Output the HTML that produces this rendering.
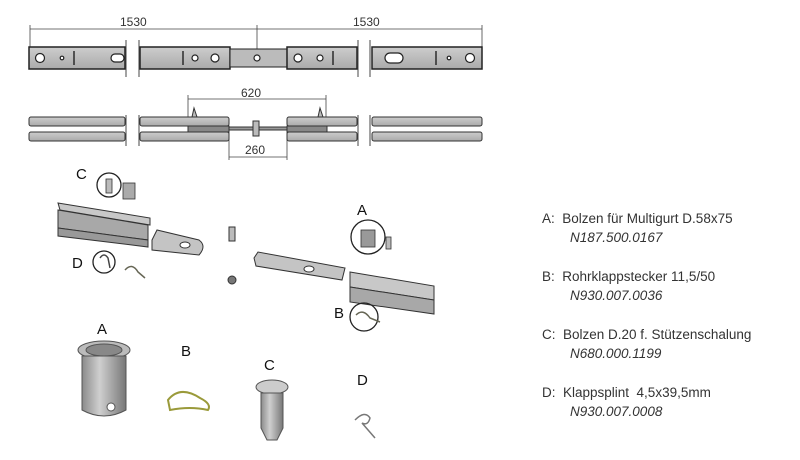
<!DOCTYPE html>
<html><head><meta charset="utf-8"><style>
html,body{margin:0;padding:0;background:#fff;width:800px;height:460px;overflow:hidden}
svg{display:block}
.t{font-family:"Liberation Sans",sans-serif;font-size:13.5px;fill:#333}
.i{font-style:italic}
.d{font-family:"Liberation Sans",sans-serif;font-size:12px;fill:#333}
.L{font-family:"Liberation Sans",sans-serif;font-size:15px;fill:#111}
</style></head><body>
<svg width="800" height="460" viewBox="0 0 800 460">
<defs>
<linearGradient id="g" x1="0" y1="0" x2="0" y2="1"><stop offset="0" stop-color="#cdcdcd"/><stop offset="1" stop-color="#aaa"/></linearGradient>
<linearGradient id="cy" x1="0" y1="0" x2="1" y2="0"><stop offset="0" stop-color="#8a8a8a"/><stop offset=".4" stop-color="#cfcfcf"/><stop offset="1" stop-color="#777"/></linearGradient>
</defs>
<g stroke="#444" stroke-width="0.8" fill="none">
<line x1="30" y1="29" x2="482" y2="29"/><line x1="30" y1="25" x2="30" y2="47"/><line x1="257" y1="25" x2="257" y2="60"/><line x1="482" y1="25" x2="482" y2="47"/>
<line x1="188" y1="99" x2="326" y2="99"/><line x1="188" y1="95" x2="188" y2="118"/><line x1="326" y1="95" x2="326" y2="118"/>
<line x1="229" y1="157" x2="287" y2="157"/><line x1="229" y1="130" x2="229" y2="160"/><line x1="287" y1="130" x2="287" y2="160"/>
</g>
<text class="d" x="120" y="26">1530</text><text class="d" x="353" y="26">1530</text>
<text class="d" x="241" y="97">620</text><text class="d" x="245" y="154">260</text>
<g stroke="#222" stroke-width="1.5">
<rect x="29" y="47" width="96" height="22" fill="url(#g)"/>
<rect x="140" y="47" width="90" height="22" fill="url(#g)"/>
<rect x="230" y="49" width="57" height="18" fill="#bbb" stroke-width="1"/>
<rect x="287" y="47" width="70" height="22" fill="url(#g)"/>
<rect x="372" y="47" width="110" height="22" fill="url(#g)"/>
</g>
<g stroke="#222" stroke-width="1.2" fill="#fff">
<circle cx="40" cy="58" r="4.5"/><circle cx="62" cy="58" r="1.8"/><rect x="111" y="54" width="13" height="8" rx="4"/>
<circle cx="195" cy="58" r="3"/><circle cx="215" cy="58" r="4"/><circle cx="257" cy="58" r="3"/>
<circle cx="298" cy="58" r="4"/><circle cx="320" cy="58" r="3"/>
<rect x="385" y="53" width="18" height="10" rx="5"/><circle cx="449" cy="58" r="1.8"/><circle cx="470" cy="58" r="4.5"/>
</g>
<g stroke="#222" stroke-width="1.4"><line x1="74" y1="51" x2="74" y2="65"/><line x1="183" y1="51" x2="183" y2="65"/><line x1="333" y1="51" x2="333" y2="65"/><line x1="436" y1="51" x2="436" y2="65"/></g>
<g stroke="#444" stroke-width="1"><line x1="126" y1="40" x2="126" y2="77"/><line x1="139" y1="40" x2="139" y2="77"/><line x1="358" y1="40" x2="358" y2="77"/><line x1="370" y1="40" x2="370" y2="77"/>
<line x1="126" y1="115" x2="126" y2="146"/><line x1="139" y1="115" x2="139" y2="146"/><line x1="358" y1="115" x2="358" y2="146"/><line x1="370" y1="115" x2="370" y2="146"/></g>
<g stroke="#333" stroke-width="1" fill="url(#g)">
<rect x="29" y="117" width="96" height="9" rx="2"/><rect x="29" y="132" width="96" height="9" rx="2"/>
<rect x="140" y="117" width="89" height="9" rx="2"/><rect x="140" y="132" width="89" height="9" rx="2"/>
<rect x="287" y="117" width="70" height="9" rx="2"/><rect x="287" y="132" width="70" height="9" rx="2"/>
<rect x="372" y="117" width="110" height="9" rx="2"/><rect x="372" y="132" width="110" height="9" rx="2"/>
<rect x="188" y="126" width="41" height="6" fill="#888"/><rect x="287" y="126" width="40" height="6" fill="#888"/>
<rect x="229" y="127" width="58" height="3" fill="#999"/>
<rect x="253" y="121" width="6" height="15" fill="#bbb"/>
<path d="M192 117 L194 108 L197 117Z" fill="#bbb"/><path d="M318 117 L320 108 L323 117Z" fill="#bbb"/>
</g>
<g stroke="#333" stroke-width="1">
<path d="M58 203 L150 218 L150 225 L60 210Z" fill="#c8c8c8"/>
<path d="M58 210 L148 225 L148 240 L58 228Z" fill="#a8a8a8"/>
<path d="M58 228 L148 240 L148 247 L58 236Z" fill="#999"/>
<path d="M152 240 L157 230 L199 240 Q207 246 199 255 L152 250Z" fill="#c4c4c4"/>
<ellipse cx="185" cy="245" rx="5" ry="3" fill="#fff"/>
<path d="M254 258 L258 252 L345 268 L342 280 L256 266Z" fill="#c4c4c4"/>
<ellipse cx="309" cy="269" rx="5" ry="3" fill="#fff"/>
<path d="M350 272 L434 286 L434 300 L350 287Z" fill="#c8c8c8"/>
<path d="M350 287 L434 300 L434 314 L350 302Z" fill="#a8a8a8"/>
<rect x="229" y="227" width="6" height="14" fill="#bbb"/><circle cx="232" cy="280" r="4" fill="#777"/>
</g>
<g stroke="#222" stroke-width="1.3" fill="none">
<circle cx="109" cy="185" r="12"/><circle cx="104" cy="262" r="11"/><circle cx="368" cy="237" r="17"/><circle cx="364" cy="317" r="14"/>
</g>
<g stroke="#333" stroke-width="0.8">
<rect x="106" y="179" width="6" height="14" fill="#bbb"/><rect x="123" y="183" width="12" height="16" fill="#aaa"/>
<rect x="361" y="230" width="14" height="17" fill="#999"/><rect x="386" y="237" width="5" height="12" fill="#bbb"/>
</g>
<path d="M100 258 Q104 252 108 258 L110 268" fill="none" stroke="#444" stroke-width="1.5"/>
<path d="M125 270 Q132 262 138 272 L145 278" fill="none" stroke="#665" stroke-width="1.5"/>
<path d="M356 315 Q363 308 370 318 L380 322" fill="none" stroke="#665" stroke-width="1.5"/>
<text class="L" x="76" y="179">C</text><text class="L" x="72" y="268">D</text><text class="L" x="357" y="215">A</text><text class="L" x="334" y="318">B</text>
<text class="L" x="97" y="334">A</text><text class="L" x="181" y="356">B</text><text class="L" x="264" y="370">C</text><text class="L" x="357" y="385">D</text>
<ellipse cx="104" cy="350" rx="26" ry="9" fill="#bbb" stroke="#555"/>
<path d="M82 356 L82 410 Q104 422 126 410 L126 356Z" fill="url(#cy)" stroke="#555"/>
<ellipse cx="104" cy="350" rx="18" ry="6" fill="#888" stroke="#555"/>
<circle cx="111" cy="407" r="4" fill="#fff" stroke="#555"/>
<path d="M168 400 Q180 385 200 398 Q212 404 208 410 Q190 406 170 410Z" fill="none" stroke="#9a9a3a" stroke-width="2"/>
<ellipse cx="272" cy="387" rx="16" ry="7" fill="#ccc" stroke="#555"/>
<path d="M261 393 L261 428 L267 440 L277 440 L283 428 L283 393Z" fill="url(#cy)" stroke="#555"/>
<path d="M355 420 Q365 410 370 418 Q368 426 362 423 L375 438" fill="none" stroke="#777" stroke-width="1.5"/>
<text class="t" x="542" y="223">A:&#160; Bolzen für Multigurt D.58x75</text><text class="t i" x="570" y="242">N187.500.0167</text>
<text class="t" x="542" y="281">B:&#160; Rohrklappstecker 11,5/50</text><text class="t i" x="570" y="300">N930.007.0036</text>
<text class="t" x="542" y="339">C:&#160; Bolzen D.20 f. Stützenschalung</text><text class="t i" x="570" y="358">N680.000.1199</text>
<text class="t" x="542" y="397">D:&#160; Klappsplint&#160; 4,5x39,5mm</text><text class="t i" x="570" y="416">N930.007.0008</text>
</svg>
</body></html>
